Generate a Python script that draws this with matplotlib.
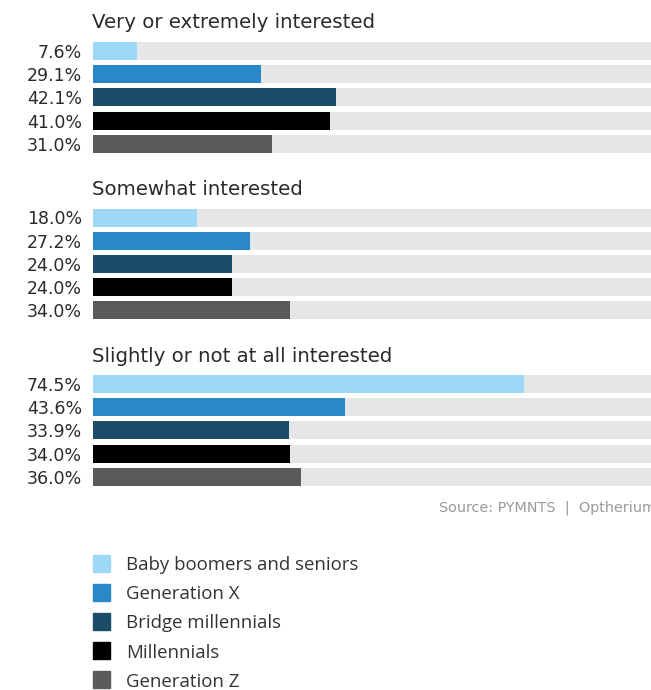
import matplotlib
matplotlib.use("Agg")
import matplotlib.pyplot as plt
from matplotlib.patches import Rectangle

groups = ["Very or extremely interested", "Somewhat interested", "Slightly or not at all interested"]
series = ["Baby boomers and seniors", "Generation X", "Bridge millennials", "Millennials", "Generation Z"]
values = [
    [7.6, 29.1, 42.1, 41.0, 31.0],
    [18.0, 27.2, 24.0, 24.0, 34.0],
    [74.5, 43.6, 33.9, 34.0, 36.0],
]
colors = ["#9dd9f7", "#2888c8", "#1b4d6b", "#000000", "#5a5a5a"]
track_color = "#e5e6e8"
source_text = "Source: PYMNTS  |  Optherium Labs"

W, H = 651, 690
fig = plt.figure(figsize=(W / 100, H / 100), dpi=100)
fig.patch.set_facecolor("white")

# axes: x in percent (0..100 runs past the right edge), y in pixel-like units
x0_px, px_per_pct = 93, 5.78
ax = fig.add_axes([x0_px / W, 0, 100 * px_per_pct / W, 1])
ax.set_xlim(0, 100)
ax.set_ylim(H, 0)
ax.axis("off")

main_font = "DejaVu Sans"
legend_font = "Open Sans"
first_center, group_step, row_step, bar_h = 51, 166.5, 23.2, 18

for g, (gname, vals) in enumerate(zip(groups, values)):
    base = first_center + g * group_step
    ax.text(-0.2, base - 22.5, gname, fontsize=14.2, family=main_font,
            color="#2a2a2a", ha="left", va="baseline")
    for i, v in enumerate(vals):
        yc = base + i * row_step
        ax.barh(yc, 100, height=bar_h, color=track_color, left=0, clip_on=False)
        ax.barh(yc, v, height=bar_h, color=colors[i], left=0, clip_on=False)
        ax.text(-1.9, yc, f"{v:.1f}%", fontsize=12.5, family=main_font,
                color="#2a2a2a", ha="right", va="center_baseline", clip_on=False)

fig.text(439 / W, 1 - 508 / H, source_text, fontsize=10.4, family=main_font,
         color="#9a9a9a", ha="left", va="center")

# legend
leg_y0, leg_step, sq = 563, 29.2, 17
for i, (name, c) in enumerate(zip(series, colors)):
    yc = leg_y0 + i * leg_step
    ax.add_patch(Rectangle((0, yc - sq / 2), sq / px_per_pct, sq, color=c, clip_on=False))
    ax.text((126 - x0_px) / px_per_pct, yc, name, fontsize=13.4, family=legend_font,
            color="#333333", ha="left", va="center_baseline", clip_on=False)

fig.savefig("out.png", dpi=100)
